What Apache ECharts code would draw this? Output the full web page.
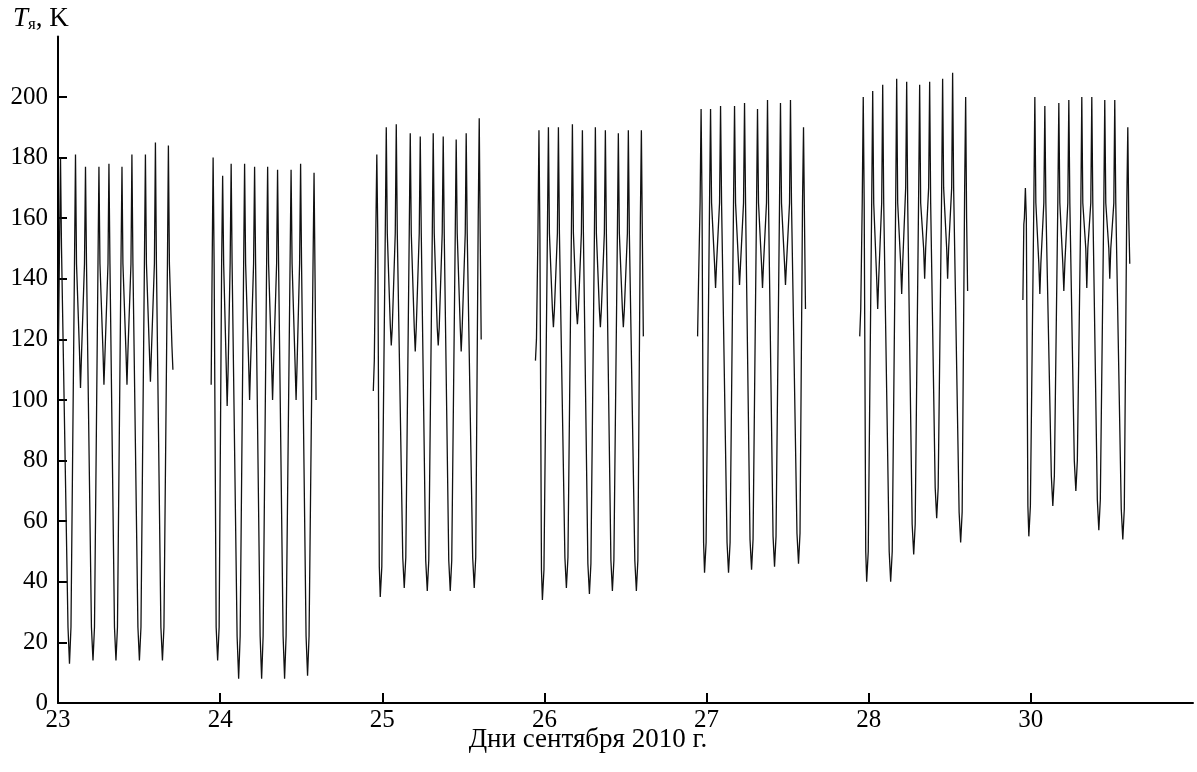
<!DOCTYPE html>
<html><head><meta charset="utf-8">
<script src="https://cdn.jsdelivr.net/npm/echarts@6/dist/echarts.min.js"></script>
<style>html,body{margin:0;padding:0;background:#fff}#c{width:1197px;height:772px}</style>
</head><body><div id="c"></div>
<script>
// x-axis tick labels (days of September 2010; 29 is skipped)
const tickLabels = ['23','24','25','26','27','28','30'];
const yTicks = [0,20,40,60,80,100,120,140,160,180,200];

// each block: hours relative to the day's tick, and temperature T (K)
const h23 = [0.07,0.22,0.37,0.52,1.48,1.70,1.92,2.44,2.59,2.74,3.18,3.33,3.48,3.92,4.07,4.22,4.95,5.18,5.40,5.92,6.06,6.21,6.66,6.80,6.95,7.40,7.54,7.69,8.36,8.58,8.80,9.32,9.47,9.61,10.06,10.21,10.35,10.80,10.94,11.09,11.83,12.05,12.28,12.79,12.94,13.09,13.53,13.68,13.83,14.27,14.42,14.57,15.23,15.46,15.68,16.20,16.34,16.49,16.86,17.01];
const v23 = [118,150,180,150,25,13,25,145,181,145,116,104,115,145,177,145,25,14,25,145,177,145,116,105,115,145,178,145,25,14,25,145,177,145,116,105,116,145,181,145,25,14,25,145,181,145,116,106,116,145,185,145,25,14,25,145,184,145,118,110];

const h24 = [-1.33,-1.18,-1.04,-0.89,-0.59,-0.37,-0.15,0.22,0.37,0.52,0.89,1.04,1.18,1.48,1.63,1.77,2.51,2.74,2.96,3.48,3.62,3.77,4.22,4.36,4.51,4.95,5.10,5.25,5.92,6.14,6.36,6.88,7.03,7.17,7.62,7.76,7.91,8.36,8.50,8.65,9.32,9.54,9.76,10.35,10.50,10.65,11.09,11.24,11.39,11.76,11.91,12.05,12.72,12.94,13.16,13.75,13.90,14.05,14.20];
const v24 = [105,145,180,145,25,14,25,145,174,145,112,98,110,145,178,145,22,8,22,145,178,145,112,100,112,145,177,145,22,8,22,145,177,145,112,100,112,145,176,145,22,8,22,145,176,145,112,100,112,145,178,145,22,9,22,145,175,140,100];

const h25 = [-1.33,-1.18,-0.96,-0.81,-0.67,-0.44,-0.30,-0.07,0.44,0.59,0.74,1.18,1.33,1.48,1.92,2.07,2.22,3.03,3.25,3.48,3.99,4.14,4.29,4.73,4.88,5.03,5.47,5.62,5.77,6.43,6.66,6.88,7.40,7.54,7.69,8.13,8.28,8.43,8.87,9.02,9.17,9.84,10.06,10.28,10.80,10.94,11.09,11.54,11.68,11.83,12.28,12.42,12.57,13.38,13.61,13.83,14.20,14.35,14.49,14.64];
const v25 = [103,113,155,181,155,45,35,45,155,190,155,125,118,124,155,191,155,48,38,48,155,188,155,124,116,124,155,187,155,47,37,47,155,188,155,124,118,124,155,187,155,47,37,47,155,186,155,124,116,124,155,188,155,48,38,48,160,193,155,120];

const h26 = [-1.33,-1.18,-0.96,-0.81,-0.67,-0.44,-0.30,-0.07,0.44,0.59,0.74,1.18,1.33,1.48,1.92,2.07,2.22,3.03,3.25,3.48,3.99,4.14,4.29,4.73,4.88,5.03,5.47,5.62,5.77,6.43,6.66,6.88,7.40,7.54,7.69,8.13,8.28,8.43,8.87,9.02,9.17,9.84,10.06,10.28,10.80,10.94,11.09,11.54,11.68,11.83,12.28,12.42,12.57,13.38,13.61,13.83,14.20,14.35,14.49,14.64];
const v26 = [113,120,155,189,155,44,34,44,155,190,155,130,124,130,155,190,155,48,38,48,155,191,155,130,125,130,155,189,155,46,36,46,155,190,155,130,124,130,155,189,155,47,37,47,155,188,155,130,124,130,155,189,155,47,37,47,160,189,155,121];

const h27 = [-1.33,-1.18,-0.96,-0.81,-0.67,-0.44,-0.30,-0.07,0.44,0.59,0.74,1.18,1.33,1.48,1.92,2.07,2.22,3.03,3.25,3.48,3.99,4.14,4.29,4.73,4.88,5.03,5.47,5.62,5.77,6.43,6.66,6.88,7.40,7.54,7.69,8.13,8.28,8.43,8.87,9.02,9.17,9.84,10.06,10.28,10.80,10.94,11.09,11.54,11.68,11.83,12.28,12.42,12.57,13.38,13.61,13.83,14.20,14.35,14.49,14.64];
const v27 = [121,140,165,196,165,53,43,53,165,196,165,145,137,145,165,197,165,53,43,53,165,197,165,145,138,145,165,198,165,54,44,54,165,196,165,145,137,145,165,199,165,55,45,55,165,198,165,145,138,145,165,199,165,56,46,56,165,190,160,130];

const h28 = [-1.33,-1.18,-0.96,-0.81,-0.67,-0.44,-0.30,-0.07,0.44,0.59,0.74,1.18,1.33,1.48,1.92,2.07,2.22,3.03,3.25,3.48,3.99,4.14,4.29,4.73,4.88,5.03,5.47,5.62,5.77,6.43,6.66,6.88,7.40,7.54,7.69,8.13,8.28,8.43,8.87,9.02,9.17,9.84,10.06,10.28,10.80,10.94,11.09,11.54,11.68,11.83,12.28,12.42,12.57,13.38,13.61,13.83,14.20,14.35,14.49,14.64];
const v28 = [121,130,165,200,165,50,40,50,165,202,165,140,130,140,165,204,165,50,40,50,165,206,165,145,135,145,170,205,165,59,49,59,170,204,165,150,140,150,170,205,165,71,61,71,170,206,170,150,140,150,170,208,170,63,53,63,170,200,160,136];

const h30 = [-1.18,-1.04,-0.96,-0.81,-0.67,-0.44,-0.30,-0.07,0.44,0.59,0.74,1.18,1.33,1.48,1.92,2.07,2.22,3.03,3.25,3.48,3.99,4.14,4.29,4.73,4.88,5.03,5.47,5.62,5.77,6.43,6.66,6.88,7.40,7.54,7.69,8.13,8.28,8.43,8.87,9.02,9.17,9.84,10.06,10.28,10.80,10.94,11.09,11.54,11.68,11.83,12.28,12.42,12.57,13.38,13.61,13.83,14.20,14.35,14.49,14.64];
const v30 = [133,158,160,170,160,65,55,65,165,200,165,145,135,145,165,197,165,75,65,75,165,198,165,145,136,145,165,199,165,80,70,80,165,200,165,150,137,150,165,200,165,67,57,67,165,199,165,150,140,150,165,199,165,64,54,64,165,190,160,145];

const blocks = [[0,h23,v23],[1,h24,v24],[2,h25,v25],[3,h26,v26],[4,h27,v27],[5,h28,v28],[6,h30,v30]];

const serif = '"Liberation Serif","DejaVu Serif",serif';
const chart = echarts.init(document.getElementById('c'), null, {renderer:'canvas'});
chart.setOption({
  animation:false,
  backgroundColor:'#fff',
  grid:{left:58, right:4, top:36.4, bottom:69},
  xAxis:{
    type:'value', min:0, max:7,
    axisLine:{show:true, onZero:false, lineStyle:{color:'#000', width:2}},
    axisTick:{show:true, inside:true, length:10, lineStyle:{color:'#000', width:2},
      customValues:[0,1,2,3,4,5,6]},
    axisLabel:{show:true, customValues:[0,1,2,3,4,5,6], margin:5,
      formatter:v=>tickLabels[Math.round(v)], color:'#000', fontFamily:serif, fontSize:25},
    splitLine:{show:false}
  },
  yAxis:{
    type:'value', min:0, max:220,
    axisLine:{show:true, lineStyle:{color:'#000', width:2}},
    axisTick:{show:true, inside:true, length:9, lineStyle:{color:'#000', width:2}, customValues:yTicks},
    axisLabel:{show:true, customValues:yTicks, margin:10, color:'#000', fontFamily:serif, fontSize:25},
    splitLine:{show:false}
  },
  graphic:[
    {type:'text', left:13, top:5, style:{
      text:'{t|T}{s|я}{n|, K}',
      rich:{
        t:{fontFamily:serif, fontStyle:'italic', fontSize:27, fill:'#000'},
        s:{fontFamily:serif, fontSize:17, fill:'#000', padding:[12,0,0,0]},
        n:{fontFamily:serif, fontSize:27, fill:'#000'}
      }}},
    {type:'text', x:588, y:740, style:{text:'Дни сентября 2010 г.', fontFamily:serif, fontSize:27,
      fill:'#000', textAlign:'center', textVerticalAlign:'middle'}}
  ],
  series: blocks.map(([d,h,v])=>({
    type:'line', showSymbol:false, symbol:'none', silent:true,
    lineStyle:{color:'#111', width:1.3},
    data:h.map((x,i)=>[d + x/24, v[i]])
  }))
});
</script></body></html>
